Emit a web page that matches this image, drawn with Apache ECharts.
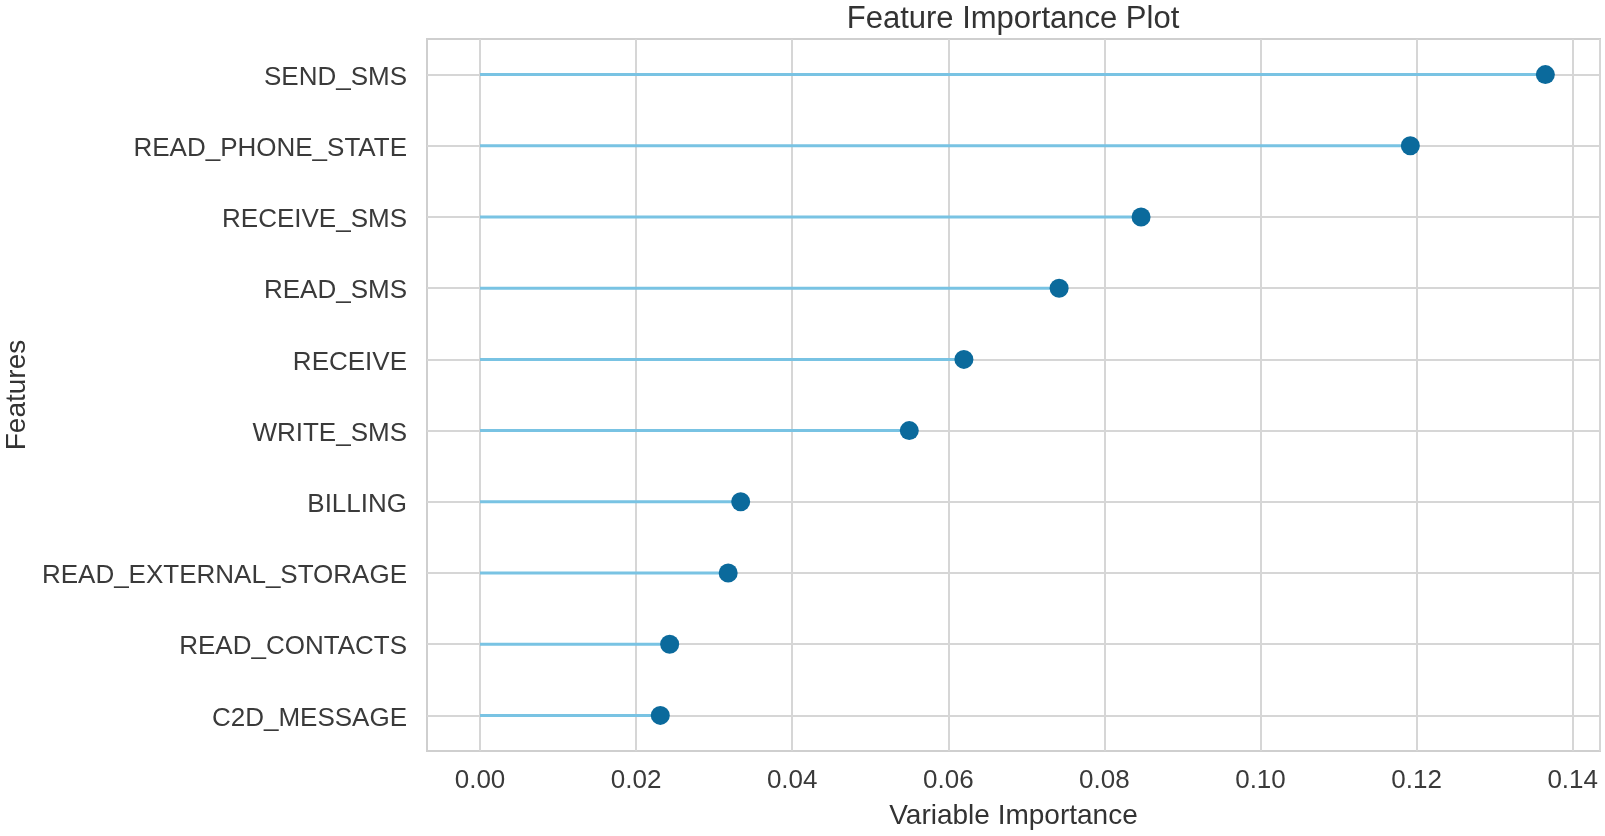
<!DOCTYPE html>
<html>
<head>
<meta charset="utf-8">
<script src="https://cdn.jsdelivr.net/npm/echarts@6/dist/echarts.min.js"></script>
<style>
  html, body { margin: 0; padding: 0; background: #fff; }
  #chart { width: 1605px; height: 836px; }
</style>
</head>
<body>
<div id="chart"></div>
<script>
// features, top to bottom
const features = ['SEND_SMS', 'READ_PHONE_STATE', 'RECEIVE_SMS', 'READ_SMS', 'RECEIVE',
  'WRITE_SMS', 'BILLING', 'READ_EXTERNAL_STORAGE', 'READ_CONTACTS', 'C2D_MESSAGE']
const importance = [0.1365, 0.1192, 0.0847, 0.0742, 0.0620, 0.0550, 0.0334, 0.0318, 0.0243, 0.0231]
const xTicks = [0, 0.02, 0.04, 0.06, 0.08, 0.10, 0.12, 0.14]

const font = 'Liberation Sans, Arial, sans-serif'
const gridColor = '#d6d6d6'
const stemColor = '#79c3e3'
const dotColor = '#0b6a9c'

const myChart = echarts.init(document.getElementById('chart'))

const option = {
  animation: false,
  textStyle: { fontFamily: font },
  title: {
    text: 'Feature Importance Plot',
    left: 1013,
    top: 4,
    padding: 0,
    textAlign: 'center',
    textStyle: { fontSize: 31, fontWeight: 'normal', color: '#333', fontFamily: font }
  },
  grid: [
    // frame with horizontal lines and labels
    { left: 427, right: 5, top: 39, bottom: 85, show: true, borderColor: '#cfcfcf', borderWidth: 2, containLabel: false, outerBoundsMode: 'none' },
    // data area, x = 0 at its left edge
    { left: 480, right: 5, top: 39, bottom: 85, containLabel: false, outerBoundsMode: 'none' }
  ],
  xAxis: [
    {
      gridIndex: 0, type: 'value', min: 0, max: 1,
      axisLine: { show: false }, axisTick: { show: false }, axisLabel: { show: false },
      splitLine: { show: false },
      name: 'Variable Importance', nameLocation: 'middle', nameGap: 51,
      nameTextStyle: { fontSize: 28, color: '#333', fontFamily: font }
    },
    {
      gridIndex: 1, type: 'value', min: 0, max: 0.1435, interval: 0.02,
      axisLine: { show: false }, axisTick: { show: false },
      axisLabel: {
        fontSize: 26, color: '#3a3a3a', margin: 17, fontFamily: font,
        formatter: v => xTicks.some(t => Math.abs(t - v) < 1e-9) ? v.toFixed(2) : ''
      },
      splitLine: { show: true, lineStyle: { color: gridColor, width: 2 } }
    }
  ],
  yAxis: [
    {
      gridIndex: 0, type: 'category', data: features, inverse: true, boundaryGap: true,
      axisLine: { show: false }, axisTick: { show: false },
      axisLabel: {
        margin: 20,
        formatter: v => '{l|' + v + '}',
        rich: { l: { fontSize: 26, color: '#3a3a3a', fontFamily: font, padding: [6, 0, 0, 0] } }
      },
      splitLine: { show: true, alignWithLabel: true, lineStyle: { color: gridColor, width: 2 } },
      name: 'Features', nameLocation: 'middle', nameRotate: 90, nameGap: 396,
      nameTextStyle: { fontSize: 28, color: '#333', fontFamily: font }
    },
    {
      gridIndex: 1, type: 'category', data: features, inverse: true, boundaryGap: true,
      show: false
    }
  ],
  series: [
    {
      type: 'bar',
      xAxisIndex: 1,
      yAxisIndex: 1,
      barWidth: 3,
      itemStyle: { color: stemColor },
      data: importance
    },
    {
      type: 'scatter',
      xAxisIndex: 1,
      yAxisIndex: 1,
      symbolSize: 19,
      itemStyle: { color: dotColor, opacity: 1 },
      data: importance
    }
  ]
}
myChart.setOption(option)
</script>
</body>
</html>
